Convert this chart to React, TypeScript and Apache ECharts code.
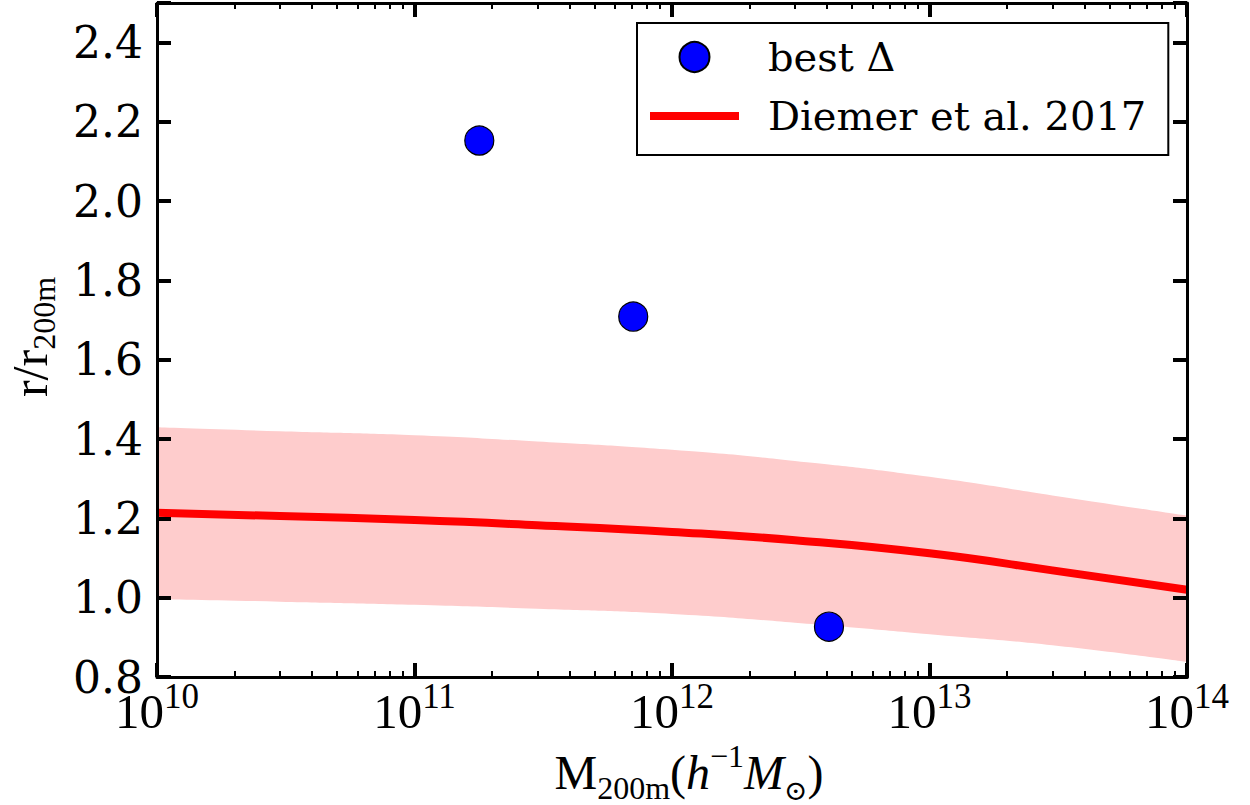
import React, { useEffect, useRef } from 'react';
import * as echarts from 'echarts';

// Diemer et al. 2017 model curve (median and scatter band)
const massGrid = [1e10, 3e10, 1e11, 3e11, 1e12, 3e12, 1e13, 3e13, 1e14];
const diemerMedian = [1.214, 1.206, 1.196, 1.183, 1.166, 1.145, 1.112, 1.069, 1.02];
const diemerUpper = [1.43, 1.42, 1.41, 1.394, 1.373, 1.345, 1.305, 1.258, 1.207];
const diemerLower = [0.997, 0.99, 0.982, 0.972, 0.959, 0.937, 0.908, 0.88, 0.838];

// "best Δ" points
const bestMass = [1.785e11, 7.07e11, 4.07e12];
const bestRatio = [2.153, 1.709, 0.927];

// axis ticks
const majorMassTicks = [1e10, 1e11, 1e12, 1e13, 1e14];
const minorMultipliers = [2, 3, 4, 5, 6, 7, 8, 9];
const minorMassTicks: number[] = [];
majorMassTicks.slice(0, -1).forEach((d) => minorMultipliers.forEach((m) => minorMassTicks.push(m * d)));

const legendNames = ['best Δ', 'Diemer et al. 2017'];

export default function App() {
  const ref = useRef<HTMLDivElement>(null);
  useEffect(() => {
    if (!ref.current) return;
    const chart = echarts.init(ref.current, null, { renderer: 'svg' });
    const xBase: any = {
      type: 'log',
      logBase: 10,
      min: 1e10,
      max: 1e14,
      gridIndex: 0,
      z: 10,
      splitLine: { show: false },
      minorSplitLine: { show: false },
    };
    const majorTick = { show: true, inside: true, length: 14, lineStyle: { color: '#000', width: 4 }, customValues: majorMassTicks };
    const minorTick = { show: true, inside: true, length: 6, lineStyle: { color: '#000', width: 2 }, customValues: minorMassTicks };
    const serif = 'Liberation Serif';
    const option: any = {
      animation: false,
      backgroundColor: '#fff',
      grid: { left: 157, right: 63, top: 3, bottom: 128, containLabel: false, outerBoundsMode: 'none' },
      xAxis: [
        {
          ...xBase,
          position: 'bottom',
          axisLine: { show: true, lineStyle: { color: '#000', width: 3 } },
          axisTick: majorTick,
          axisLabel: {
            show: true,
            margin: 2,
            customValues: majorMassTicks,
            formatter: (v: number) => `{b|10}{s|${Math.round(Math.log10(v))}}`,
            rich: {
              b: { fontFamily: serif, fontSize: 49, lineHeight: 64, color: '#000', verticalAlign: 'middle' },
              s: { fontFamily: serif, fontSize: 35, lineHeight: 34, color: '#000', verticalAlign: 'top' },
            },
          },
        },
        { ...xBase, position: 'bottom', axisLine: { show: false }, axisTick: minorTick, axisLabel: { show: false } },
        { ...xBase, position: 'top', axisLine: { show: true, lineStyle: { color: '#000', width: 3 } }, axisTick: majorTick, axisLabel: { show: false } },
        { ...xBase, position: 'top', axisLine: { show: false }, axisTick: minorTick, axisLabel: { show: false } },
      ],
      yAxis: [
        {
          type: 'value',
          min: 0.8,
          max: 2.5,
          interval: 0.2,
          position: 'left',
          z: 10,
          splitLine: { show: false },
          axisLine: { show: true, lineStyle: { color: '#000', width: 3 } },
          axisTick: { show: true, inside: true, length: 14, lineStyle: { color: '#000', width: 4 } },
          axisLabel: {
            margin: 14,
            fontFamily: 'DejaVu Serif',
            fontSize: 44,
            color: '#000',
            formatter: (v: number) => (Math.abs(v - 2.5) < 1e-6 ? '' : v.toFixed(1)),
          },
        },
        {
          type: 'value',
          min: 0.8,
          max: 2.5,
          interval: 0.2,
          position: 'right',
          z: 10,
          splitLine: { show: false },
          axisLine: { show: true, lineStyle: { color: '#000', width: 3 } },
          axisTick: { show: true, inside: true, length: 14, lineStyle: { color: '#000', width: 4 } },
          axisLabel: { show: false },
        },
      ],
      legend: {
        data: [
          { name: legendNames[0], icon: 'circle' },
          { name: legendNames[1], icon: 'path://M0 0H89V8H0Z', itemStyle: { color: '#ff0000', borderWidth: 0 } },
        ],
        orient: 'vertical',
        left: 637,
        top: 23,
        z: 20,
        itemWidth: 89,
        itemHeight: 30,
        itemGap: 19,
        padding: [14, 22, 19, 13],
        borderColor: '#000',
        borderWidth: 2,
        borderRadius: 0,
        backgroundColor: '#fff',
        selectedMode: false,
        textStyle: { fontFamily: 'DejaVu Serif', fontSize: 40, color: '#000', padding: [0, 0, 0, 24] },
      },
      series: [
        {
          name: 'bandUpper',
          type: 'line',
          smooth: true,
          symbol: 'none',
          silent: true,
          data: massGrid.map((m, i) => [m, diemerUpper[i]]),
          lineStyle: { width: 0, opacity: 0 },
          areaStyle: { color: 'rgb(254,204,204)', opacity: 1, origin: 'start' },
          z: 1,
        },
        {
          name: 'bandLower',
          type: 'line',
          smooth: true,
          symbol: 'none',
          silent: true,
          data: massGrid.map((m, i) => [m, diemerLower[i]]),
          lineStyle: { width: 0, opacity: 0 },
          areaStyle: { color: '#ffffff', opacity: 1, origin: 'start' },
          z: 1.5,
        },
        {
          name: legendNames[1],
          type: 'line',
          smooth: true,
          symbol: 'none',
          data: massGrid.map((m, i) => [m, diemerMedian[i]]),
          lineStyle: { color: '#ff0000', width: 8 },
          itemStyle: { color: '#ff0000' },
          z: 3,
        },
        {
          name: legendNames[0],
          type: 'scatter',
          symbol: 'circle',
          symbolSize: 29,
          data: bestMass.map((m, i) => [m, bestRatio[i]]),
          itemStyle: { color: '#0000ff', borderColor: '#000', borderWidth: 1.2, opacity: 1 },
          z: 5,
        },
      ],
      graphic: [
        {
          type: 'text',
          x: 689,
          y: 772,
          style: {
            text: '{r|M}{sub|200m}{r|(}{i|h}{sup|−1}{i|M}{sub2|⊙}{r|)}',
            align: 'center',
            verticalAlign: 'middle',
            rich: {
              r: { fontFamily: serif, fontSize: 48, lineHeight: 64, fill: '#000', verticalAlign: 'middle' },
              i: { fontFamily: serif, fontStyle: 'italic', fontSize: 48, lineHeight: 64, fill: '#000', verticalAlign: 'middle' },
              sub: { fontFamily: serif, fontSize: 32, lineHeight: 32, fill: '#000', verticalAlign: 'bottom' },
              sub2: { fontFamily: 'DejaVu Serif', fontSize: 28, lineHeight: 32, fill: '#000', verticalAlign: 'bottom' },
              sup: { fontFamily: serif, fontSize: 32, lineHeight: 32, fill: '#000', verticalAlign: 'top' },
            },
          },
        },
        {
          type: 'text',
          x: 30,
          y: 337,
          rotation: Math.PI / 2,
          style: {
            text: '{r|r/r}{sub|200m}',
            align: 'center',
            verticalAlign: 'middle',
            rich: {
              r: { fontFamily: serif, fontSize: 50, lineHeight: 60, fill: '#000', verticalAlign: 'middle' },
              sub: { fontFamily: serif, fontSize: 32, lineHeight: 32, fill: '#000', verticalAlign: 'bottom' },
            },
          },
        },
      ],
    };
    chart.setOption(option);
    return () => chart.dispose();
  }, []);
  return <div ref={ref} style={{ position: 'absolute', left: 0, top: 0, width: 1250, height: 805 }} />;
}
